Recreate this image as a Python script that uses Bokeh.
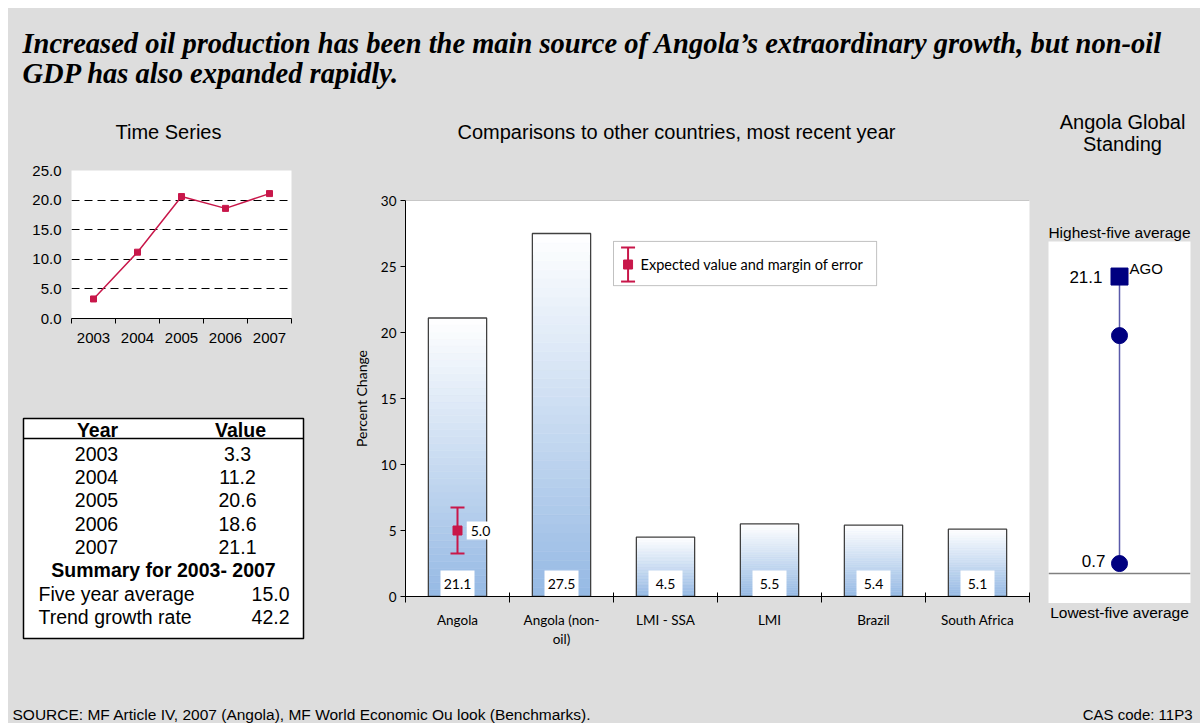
from bokeh.plotting import figure
from bokeh.layouts import column, row
from bokeh.models import (FactorRange, Range1d, FixedTicker, LinearAxis, BoxAnnotation, Span,
                          NumeralTickFormatter, Grid, Spacer, CustomJSTickFormatter)
from bokeh.core.properties import value
from bokeh.embed import file_html
from bokeh.resources import INLINE

# ---------------- data ----------------
headline_lines = ["Increased oil production has been the main source of Angola\u2019s extraordinary growth, but non-oil",
                  "GDP has also expanded rapidly."]
ts_years = ["2003", "2004", "2005", "2006", "2007"]
ts_values = [3.3, 11.2, 20.6, 18.6, 21.1]
ts_ticks = [0, 5, 10, 15, 20, 25]
summary_label = "Summary for 2003- 2007"
five_year_average = 15.0
trend_growth_rate = 42.2

cmp_categories = ["Angola", "Angola (non-\noil)", "LMI - SSA", "LMI", "Brazil", "South Africa"]
cmp_values = [21.1, 27.5, 4.5, 5.5, 5.4, 5.1]
cmp_ticks = [0, 5, 10, 15, 20, 25, 30]
expected_value = 5.0
expected_low = 3.25
expected_high = 6.75

standing_country = "AGO"
standing_value = 21.1
standing_other = 16.9
standing_low = 0.7

# ---------------- style ----------------
BG = "#DDDDDD"
CRIMSON = "#C8174A"
NAVY = "#000080"
SANS_NAME = "Liberation Sans"
GILL_NAME = "Lato"
SANS = value(SANS_NAME)
GILL = value(GILL_NAME)
BAR_BOTTOM = (149, 185, 228)
BOX_STYLE = {"background-color": BG}

W_LEFT, W_MID, W_RIGHT = 335, 697, 160
H_HEAD, H_ROW, H_FOOT = 100, 572, 43


def fig(**kw):
    return figure(output_backend="svg", toolbar_location=None, frame_align=False,
                  x_axis_location=None, y_axis_location=None, border_fill_color=BG,
                  outline_line_color=None, **kw)


def panel(w, h):
    p = fig(width=w, height=h, x_range=Range1d(0, w), y_range=Range1d(h, 0), min_border=0,
            background_fill_color=BG)
    p.grid.visible = False
    return p


def slot_axes(p, labels, font, size, tick_in, tick_out, standoff):
    """Boundary ticks between slots + slot labels at the slot centres (slot i spans i..i+1)."""
    n = len(labels)
    p.add_layout(LinearAxis(ticker=FixedTicker(ticks=list(range(n + 1))),
                            formatter=CustomJSTickFormatter(code="return ''"),
                            major_tick_in=tick_in, major_tick_out=tick_out, minor_tick_in=0, minor_tick_out=0,
                            major_label_text_font_size="2px", major_label_standoff=0,
                            axis_line_color="black", major_tick_line_color="black"), "below")
    centres = [i + 0.5 for i in range(n)]
    p.add_layout(LinearAxis(ticker=FixedTicker(ticks=centres),
                            major_label_overrides={c: lab for c, lab in zip(centres, labels)},
                            major_tick_in=0, major_tick_out=0, minor_tick_in=0, minor_tick_out=0,
                            axis_line_color=None, major_label_standoff=standoff,
                            major_label_text_font=font, major_label_text_font_size=size,
                            major_label_text_color="black"), "below")
    return centres


def error_bar(p, x, lo, mid_v, hi):
    p.segment(x0=[x], y0=[lo], x1=[x], y1=[hi], line_color=CRIMSON, line_width=2)
    p.scatter(x=[x, x], y=[lo, hi], marker="dash", size=14, line_color=CRIMSON, line_width=2)
    p.scatter(x=[x], y=[mid_v], marker="square", size=9, color=CRIMSON)


# ---------------- headline ----------------
head = panel(W_LEFT + W_MID + W_RIGHT, H_HEAD)
head.text(x=[14, 14], y=[35, 65], text=headline_lines, text_font=value("Liberation Serif"),
          text_font_style="bold italic", text_font_size="28.5px", text_baseline="alphabetic",
          text_align="left", text_color="black")

# ---------------- left column ----------------
ts_title = panel(W_LEFT, 45)
ts_title.text(x=[160], y=[23], text=["Time Series"], text_font=SANS, text_font_size="20px",
              text_align="center", text_baseline="middle", text_color="black")

ts = fig(width=W_LEFT, height=195, x_range=Range1d(0, len(ts_years)), y_range=Range1d(0, 25),
         min_border_left=63, min_border_right=52, min_border_top=17, min_border_bottom=30,
         background_fill_color="white")
ts.grid.visible = False
ts_x = slot_axes(ts, ts_years, SANS_NAME, "15px", 0, 5, 9)
ts.add_layout(LinearAxis(ticker=FixedTicker(ticks=ts_ticks), formatter=NumeralTickFormatter(format="0.0"),
                         axis_line_color=None, major_tick_in=0, major_tick_out=0, minor_tick_in=0,
                         minor_tick_out=0, major_label_standoff=10, major_label_text_font=SANS_NAME,
                         major_label_text_font_size="15px", major_label_text_color="black"), "left")
ts.add_layout(Grid(dimension=1, ticker=FixedTicker(ticks=ts_ticks[1:]), grid_line_color="black",
                   grid_line_dash="8 5", grid_line_width=1))
ts.line(x=ts_x, y=ts_values, line_color=CRIMSON, line_width=1.5)
ts.scatter(x=ts_x, y=ts_values, marker="square", size=6, color=CRIMSON)

# table
tbl = panel(W_LEFT, H_ROW - 45 - 195)
tbl.quad(left=[15], right=[295], top=[70], bottom=[290], fill_color="white",
         line_color="black", line_width=1.5)
tbl.segment(x0=[15], y0=[90], x1=[295], y1=[90], line_color="black", line_width=1.5)
TF = "19.5px"
tbl.text(x=[89, 232], y=[81, 81], text=["Year", "Value"], text_font=SANS, text_font_style="bold",
         text_font_size=TF, text_align="center", text_baseline="middle", text_color="black")
row_y = [105.3 + 23.3 * k for k in range(len(ts_years) + 3)]
tbl.text(x=[88] * len(ts_years), y=row_y[:len(ts_years)], text=ts_years, text_font=SANS,
         text_font_size=TF, text_align="center", text_baseline="middle", text_color="black")
tbl.text(x=[229] * len(ts_years), y=row_y[:len(ts_years)], text=[f"{v:.1f}" for v in ts_values],
         text_font=SANS, text_font_size=TF, text_align="center", text_baseline="middle",
         text_color="black")
tbl.text(x=[155], y=[row_y[5]], text=[summary_label], text_font=SANS, text_font_style="bold",
         text_font_size=TF, text_align="center", text_baseline="middle", text_color="black")
tbl.text(x=[30, 30], y=row_y[6:8], text=["Five year average", "Trend growth rate"], text_font=SANS,
         text_font_size=TF, text_align="left", text_baseline="middle", text_color="black")
tbl.text(x=[281, 281], y=row_y[6:8], text=[f"{five_year_average:.1f}", f"{trend_growth_rate:.1f}"],
         text_font=SANS, text_font_size=TF, text_align="right", text_baseline="middle",
         text_color="black")

left_col = column(ts_title, ts, tbl, spacing=0, styles=BOX_STYLE)

# ---------------- middle column ----------------
mid_title = panel(W_MID, 45)
mid_title.text(x=[333], y=[23], text=["Comparisons to other countries, most recent year"], text_font=SANS,
               text_font_size="20px", text_align="center", text_baseline="middle", text_color="black")

mid = fig(width=W_MID, height=H_ROW - 45, x_range=Range1d(0, len(cmp_categories)), y_range=Range1d(0, 30),
          min_border_left=62, min_border_right=11, min_border_top=47, min_border_bottom=84,
          background_fill_color="white")
mid.grid.visible = False
mid_x = slot_axes(mid, cmp_categories, GILL_NAME, "13.5px", 4, 6, 9)
mid.add_layout(LinearAxis(ticker=FixedTicker(ticks=cmp_ticks), axis_line_color="black",
                          major_tick_in=0, major_tick_out=5, minor_tick_in=0, minor_tick_out=0,
                          major_label_standoff=4, major_label_text_font=GILL_NAME,
                          major_label_text_font_size="13.5px", major_label_text_color="black",
                          axis_label="Percent Change", axis_label_text_font=GILL_NAME,
                          axis_label_text_font_size="14px", axis_label_text_font_style="normal",
                          axis_label_text_color="black", axis_label_standoff=8), "left")
mid.add_layout(Span(location=30, dimension="width", line_color="#A0A0A0", line_width=1))

# gradient-filled bars: each bar split into slices, white at top to blue at bottom
N = 40
gx, gb, gt, gc = [], [], [], []
for xc, v in zip(mid_x, cmp_values):
    for j in range(N):
        t = (j + 0.5) / N
        c = tuple(int(round(b + (255 - b) * t)) for b in BAR_BOTTOM)
        gx.append(xc)
        gb.append(v * j / N)
        gt.append(v * (j + 1) / N)
        gc.append("#%02x%02x%02x" % c)
mid.vbar(x=gx, bottom=gb, top=gt, width=0.56, fill_color=gc, line_color=gc, line_width=0.6)
mid.vbar(x=mid_x, top=cmp_values, width=0.56, fill_color=None, line_color="#404040", line_width=1.3)

# value labels at bar bottoms
mid.rect(x=mid_x, y=[0] * len(mid_x), width=34, height=52, width_units="screen",
         height_units="screen", fill_color="white", line_color=None)
mid.text(x=mid_x, y=[0] * len(mid_x), text=[f"{v:.1f}" for v in cmp_values],
         y_offset=-13, text_font=GILL, text_font_size="14px", text_align="center",
         text_baseline="middle", text_color="black")

# expected value and margin of error
error_bar(mid, mid_x[0], expected_low, expected_value, expected_high)
mid.text(x=[mid_x[0]], y=[expected_value], text=[f"{expected_value:.1f}"], x_offset=23,
         text_font=GILL, text_font_size="14px", text_align="center", text_baseline="middle",
         text_color="black", background_fill_color="white", padding=4)

# legend (drawn by hand)
mid.add_layout(BoxAnnotation(left=2.0, right=4.53, bottom=23.55, top=26.9, level="underlay",
                             fill_color="white", fill_alpha=1, line_color="#333333", line_width=1))
error_bar(mid, 2.14, 23.86, 25.15, 26.44)
mid.text(x=[2.26], y=[25.15], text=["Expected value and margin of error"],
         text_font=GILL, text_font_size="14.5px", text_align="left", text_baseline="middle",
         text_color="black")

mid_col = column(mid_title, mid, spacing=0, styles=BOX_STYLE)

# ---------------- right column ----------------
rt_title = panel(W_RIGHT, 133)
rt_title.text(x=[82, 82], y=[13, 35], text=["Angola Global", "Standing"], text_font=SANS,
              text_font_size="20px", text_align="center", text_baseline="middle", text_color="black")
rt_title.text(x=[79], y=[124], text=["Highest-five average"], text_font=SANS, text_font_size="15.5px",
              text_align="center", text_baseline="middle", text_color="black")

rt = fig(width=W_RIGHT, height=362, x_range=FactorRange(standing_country), y_range=Range1d(-2.14, 23.59),
         min_border_left=8, min_border_right=10, min_border_top=0, min_border_bottom=0,
         background_fill_color="white")
rt.grid.visible = False
rt.add_layout(Span(location=0, dimension="width", line_color="#808080", line_width=1.5))
rt.segment(x0=[standing_country], y0=[standing_low], x1=[standing_country], y1=[standing_value],
           line_color="#5A5AAA", line_width=1.5)
rt.scatter(x=[standing_country] * 2, y=[standing_other, standing_low], marker="circle", size=16, color=NAVY)
rt.scatter(x=[standing_country], y=[standing_value], marker="square", size=17, color=NAVY)
rt.text(x=[standing_country, standing_country], y=[standing_value, standing_low],
        text=[f"{standing_value:.1f}", f"{standing_low:.1f}"], x_offset=[-17, -14], y_offset=[0, -3],
        text_font=SANS, text_font_size="17px", text_align="right", text_baseline="middle",
        text_color="black")
rt.text(x=[standing_country], y=[standing_value], text=[standing_country], x_offset=10, y_offset=-8,
        text_font=SANS, text_font_size="15px", text_align="left", text_baseline="middle",
        text_color="black")

rt_bottom = panel(W_RIGHT, H_ROW - 133 - 362)
rt_bottom.text(x=[79], y=[9], text=["Lowest-five average"], text_font=SANS, text_font_size="15.5px",
               text_align="center", text_baseline="middle", text_color="black")

right_col = column(rt_title, rt, rt_bottom, spacing=0, styles=BOX_STYLE)

# ---------------- footer ----------------
foot = panel(W_LEFT + W_MID + W_RIGHT, H_FOOT)
foot.text(x=[4], y=[34], text=["SOURCE:  MF Article IV, 2007 (Angola),  MF World Economic Ou look (Benchmarks)."],
          text_font=SANS, text_font_size="15.5px", text_align="left", text_baseline="middle", text_color="black")
foot.text(x=[1184], y=[34], text=["CAS code: 11P3"], text_font=SANS, text_font_size="15px",
          text_align="right", text_baseline="middle", text_color="black")

content = column(head, row(left_col, mid_col, right_col, spacing=0, styles=BOX_STYLE), foot,
                 spacing=0, styles=BOX_STYLE)
layout = column(Spacer(height=8), row(Spacer(width=8), content, spacing=0), spacing=0)

open("out.html", "w").write(file_html(layout, INLINE))
